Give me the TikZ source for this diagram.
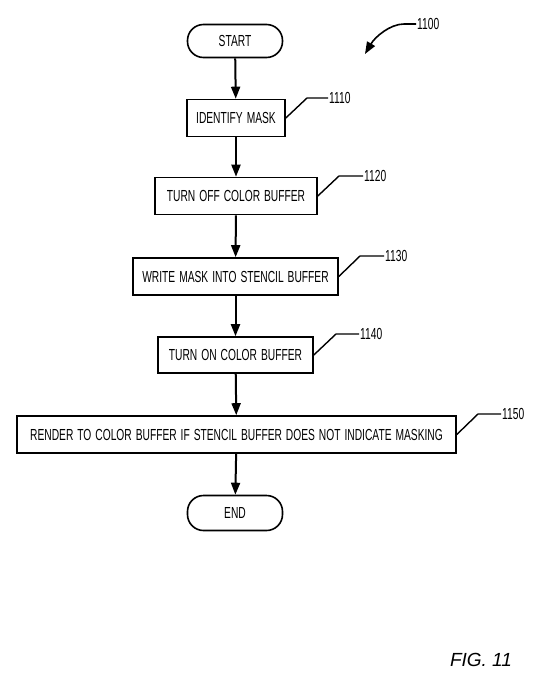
\documentclass[tikz,border=0pt]{standalone}
\usepackage{fontspec}
\setmainfont{Liberation Sans}
\newfontfamily\pfont[FakeStretch=0.64,WordSpace=1.4]{Liberation Sans}
\usetikzlibrary{arrows.meta}
\begin{document}
\begin{tikzpicture}[x=1pt,y=-1pt,
  box/.style={draw,line width=1.6pt,inner sep=0pt,font=\pfont\fontsize{16}{16}\selectfont,minimum height=37pt},
  term/.style={draw,line width=1.6pt,rounded corners=16pt,minimum width=95pt,minimum height=33pt,inner sep=0pt,font=\pfont\fontsize{16}{16}\selectfont},
  flow/.style={line width=2pt,-{Triangle[length=12pt,width=9pt]}},
  lead/.style={line width=1.4pt},
  num/.style={font=\pfont\fontsize{16}{16}\selectfont,anchor=west,inner sep=1pt}]
\useasboundingbox (0,0) rectangle (537,678);
\node[term] (start) at (235,41) {START};
\node[box,minimum width=98pt] (s1110) at (236,118) {IDENTIFY MASK};
\node[box,minimum width=162pt] (s1120) at (236,196) {TURN OFF COLOR BUFFER};
\node[box,minimum width=205pt] (s1130) at (235.5,276.5) {WRITE MASK INTO STENCIL BUFFER};
\node[box,minimum width=155pt,minimum height=36pt] (s1140) at (235.5,355) {TURN ON COLOR BUFFER};
\node[box,minimum width=439pt] (s1150) at (236.5,434.5) {RENDER TO COLOR BUFFER IF STENCIL BUFFER DOES NOT INDICATE MASKING};
\node[term,minimum height=35pt] (end) at (235,513) {END};
\draw[flow] (start) -- (s1110);
\draw[flow] (s1110) -- (s1120);
\draw[flow] (s1120) -- (s1130);
\draw[flow] (s1130) -- (s1140);
\draw[flow] (s1140) -- (s1150);
\draw[flow] (s1150) -- (end);
\node[num] (n1110) at (328,98) {1110};
\node[num] (n1120) at (363,176) {1120};
\node[num] (n1130) at (384,256) {1130};
\node[num] (n1140) at (359,334) {1140};
\node[num] (n1150) at (501,414) {1150};
\node[num] (n1100) at (416,24) {1100};
\coordinate (k1110) at (307,98);
\coordinate (k1120) at (339,176);
\coordinate (k1130) at (360,256);
\coordinate (k1140) at (336,334);
\coordinate (k1150) at (478,414);
\draw[lead] (s1110.east) -- (k1110) -- (n1110.west);
\draw[lead] (s1120.east) -- (k1120) -- (n1120.west);
\draw[lead] (s1130.east) -- (k1130) -- (n1130.west);
\draw[lead] (s1140.east) -- (k1140) -- (n1140.west);
\draw[lead] (s1150.east) -- (k1150) -- (n1150.west);
\coordinate (t1100) at (365,54);
\draw[line width=1.6pt,-{Triangle[length=12pt,width=9pt]}] (n1100.west) -- (404,24) .. controls (390,24) and (375,37) .. (t1100);
\node[font=\itshape\fontsize{19}{19}\selectfont,inner sep=0pt] (fig) at (481,660) {FIG. 11};
\end{tikzpicture}
\end{document}
